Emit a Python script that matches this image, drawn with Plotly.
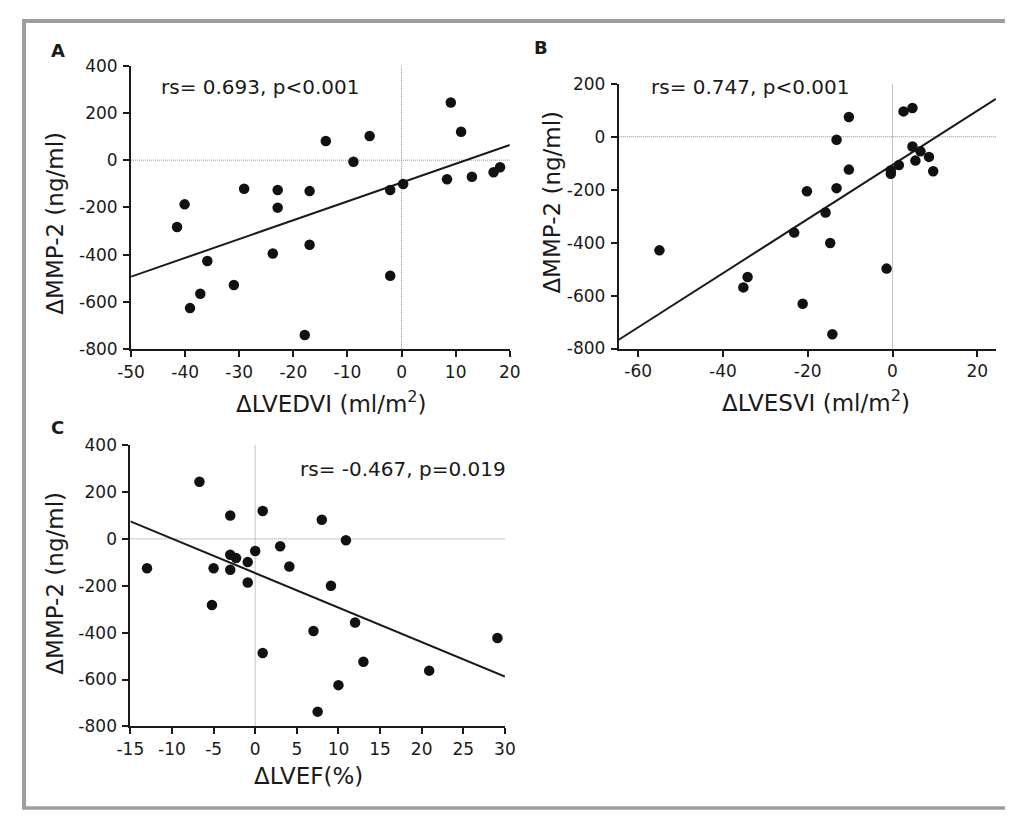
import plotly.graph_objects as go

# ---------------- data ----------------
# Panel A: dLVEDVI vs dMMP-2
a_x = [-41.5, -40.1, -39.1, -37.2, -35.9, -31.0, -29.1, -23.8, -22.9, -22.9,
       -17.9, -17.0, -17.0, -14.0, -8.9, -5.9, -2.1, -2.1, 0.3, 8.4,
       9.1, 11.0, 13.0, 17.0, 18.2]
a_y = [-283, -187, -626, -565, -427, -528, -121, -395, -126, -201,
       -740, -131, -358, 81, -7, 102, -126, -489, -101, -81,
       244, 120, -70, -51, -30]
a_fit = {"slope": 7.96, "intercept": -95}

# Panel B: dLVESVI vs dMMP-2
b_x = [-55.0, -35.2, -34.2, -23.2, -21.2, -20.2, -15.8, -14.7, -14.2, -13.2,
       -13.2, -10.3, -10.3, -1.4, -0.4, -0.4, 1.5, 2.6, 4.7, 4.7,
       5.4, 6.6, 8.6, 9.6, 11.0]
b_y = [-429, -569, -530, -362, -631, -206, -286, -401, -746, -11,
       -194, 75, -124, -498, -127, -140, -107, 96, 109, -37,
       -90, -55, -76, -130, 240]
b_fit = {"slope": 10.23, "intercept": -106}

# Panel C: dLVEF vs dMMP-2
c_x = [-13.0, -6.7, -5.2, -5.0, -3.0, -3.0, -3.0, -2.3, -0.9, -0.9,
       0.0, 0.9, 0.9, 3.0, 4.1, 7.0, 7.5, 8.0, 9.1, 10.0,
       10.9, 12.0, 13.0, 20.9, 29.1]
c_y = [-125, 244, -282, -125, 100, -68, -132, -82, -99, -186,
       -52, 119, -487, -31, -118, -393, -737, 82, -200, -624,
       -6, -357, -524, -562, -423]
c_fit = {"slope": -14.7, "intercept": -146}

stats_text = ["rs= 0.693, p<0.001", "rs= 0.747, p<0.001", "rs= -0.467, p=0.019"]
panel_labels = ["A", "B", "C"]
x_titles = ["ΔLVEDVI (ml/m<sup>2</sup>)", "ΔLVESVI (ml/m<sup>2</sup>)", "ΔLVEF(%)"]
y_title = "ΔMMP-2 (ng/ml)"

# tick values / labels (hyphen minus as in the reference)
a_xticks = [-50, -40, -30, -20, -10, 0, 10, 20]
b_xticks = [-60, -40, -20, 0, 20]
c_xticks = [-15, -10, -5, 0, 5, 10, 15, 20, 25, 30]
a_yticks = [-800, -600, -400, -200, 0, 200, 400]
b_yticks = [-800, -600, -400, -200, 0, 200]
c_yticks = [-800, -600, -400, -200, 0, 200, 400]

x_ranges = [[-50, 20], [-64.6, 24.4], [-15, 30]]
y_ranges = [[-800, 400], [-800, 200], [-800, 400]]


def lab(v):
    return ("-%g" % abs(v)) if v < 0 else "%g" % v


# ---------------- layout geometry (pixels) ----------------
W, H = 1016, 821
FONT = "'DejaVu Sans', Arial, sans-serif"
INK = "#1a1a1a"


def px_x(p):
    return p / W


def px_y(p):
    return 1 - p / H


# plot boxes: (left, right, top, bottom) in pixels
boxes = [(120, 508.3, 57, 347.7), (620, 1006.7, 75.7, 347), (119.3, 503.3, 446, 734.3)]

fig = go.Figure()

datasets = [(a_x, a_y, a_fit), (b_x, b_y, b_fit), (c_x, c_y, c_fit)]
for i, (xs, ys, fit) in enumerate(datasets):
    sfx = "" if i == 0 else str(i + 1)
    xr = x_ranges[i]
    fig.add_trace(go.Scatter(
        x=xr, y=[fit["slope"] * v + fit["intercept"] for v in xr],
        mode="lines", line=dict(color=INK, width=2),
        xaxis="x" + sfx, yaxis="y" + sfx, showlegend=False, hoverinfo="skip"))
    fig.add_trace(go.Scatter(
        x=xs, y=ys, mode="markers",
        marker=dict(size=10.5, color="#111111", line=dict(width=0)),
        cliponaxis=False,
        xaxis="x" + sfx, yaxis="y" + sfx, showlegend=False))

layout = dict(
    width=W, height=H,
    margin=dict(l=0, r=0, t=0, b=0),
    paper_bgcolor="white", plot_bgcolor="rgba(0,0,0,0)",
    font=dict(family=FONT, color=INK),
    showlegend=False,
)

xtick_sets = [a_xticks, b_xticks, c_xticks]
ytick_sets = [a_yticks, b_yticks, c_yticks]

shapes = []
annotations = []
for i, (l, r, t, b) in enumerate(boxes):
    sfx = "" if i == 0 else str(i + 1)
    ax_common = dict(
        showline=True, linecolor=INK, linewidth=2,
        ticks="outside", ticklen=6, tickwidth=1.5, tickcolor=INK,
        showgrid=False, zeroline=False,
        tickfont=dict(family=FONT, size=17, color=INK),
    )
    layout["xaxis" + sfx] = dict(
        ax_common, domain=[px_x(l), px_x(r)], range=x_ranges[i],
        tickmode="array", tickvals=xtick_sets[i], ticktext=[lab(v) for v in xtick_sets[i]],
        anchor="y" + sfx)
    layout["yaxis" + sfx] = dict(
        ax_common, domain=[px_y(b), px_y(t)], range=y_ranges[i],
        tickmode="array", tickvals=ytick_sets[i], ticktext=[lab(v) for v in ytick_sets[i]],
        anchor="x" + sfx, ticklabelstandoff=2)
    xa = "x" + sfx
    ya = "y" + sfx
    shapes.append(dict(type="line", xref=xa, yref=ya + " domain", x0=0, x1=0, y0=0, y1=1,
                       line=dict(color="#8c8c8c", width=1, dash="1px,1px"), layer="below"))
    shapes.append(dict(type="line", xref=xa + " domain", yref=ya, x0=0, x1=1, y0=0, y1=0,
                       line=dict(color="#8c8c8c", width=1, dash="1px,1px"), layer="below"))

# statistics text
STAT = dict(family=FONT, size=20, color=INK)
annotations.append(dict(text=stats_text[0], x=px_x(149), y=px_y(79), xref="paper", yref="paper",
                        xanchor="left", yanchor="middle", showarrow=False, font=STAT))
annotations.append(dict(text=stats_text[1], x=px_x(651), y=px_y(79), xref="paper", yref="paper",
                        xanchor="left", yanchor="middle", showarrow=False, font=STAT))
annotations.append(dict(text=stats_text[2], x=px_x(506), y=px_y(470), xref="paper", yref="paper",
                        xanchor="right", yanchor="middle", showarrow=False, font=STAT))

# panel letters
for lbl, (px, py) in zip(panel_labels, [(45, 42), (540, 38), (45, 428)]):
    annotations.append(dict(text="<b>%s</b>" % lbl, x=px_x(px), y=px_y(py), xref="paper", yref="paper",
                            xanchor="center", yanchor="middle", showarrow=False,
                            font=dict(family=FONT, size=18, color=INK)))

# y titles
for (px, py) in [(42, 218), (552, 197), (42, 587)]:
    annotations.append(dict(text=y_title, x=px_x(px), y=px_y(py), xref="paper", yref="paper",
                            xanchor="center", yanchor="middle", showarrow=False, textangle=-90,
                            font=dict(family=FONT, size=23, color=INK)))

# x titles
for txt, (px, py) in zip(x_titles, [(326, 402), (822, 401), (302, 785)]):
    annotations.append(dict(text=txt, x=px_x(px), y=px_y(py), xref="paper", yref="paper",
                            xanchor="center", yanchor="middle", showarrow=False,
                            font=dict(family=FONT, size=23, color=INK)))

# outer gray frame (left, top, bottom)
frame = "#9e9e9e"
shapes.append(dict(type="line", xref="paper", yref="paper", x0=px_x(10.3), x1=px_x(10.3),
                   y0=px_y(9.5), y1=px_y(819), line=dict(color=frame, width=4)))
shapes.append(dict(type="line", xref="paper", yref="paper", x0=px_x(8.3), x1=1,
                   y0=px_y(11.3), y1=px_y(11.3), line=dict(color=frame, width=4)))
shapes.append(dict(type="line", xref="paper", yref="paper", x0=px_x(8.3), x1=1,
                   y0=px_y(818), y1=px_y(818), line=dict(color=frame, width=3.5)))

layout["shapes"] = shapes
layout["annotations"] = annotations
fig.update_layout(**layout)

fig.write_html(
    "out.html",
    config={"displayModeBar": False},
    post_script="document.body.style.margin='0';document.body.style.overflow='hidden';",
)
